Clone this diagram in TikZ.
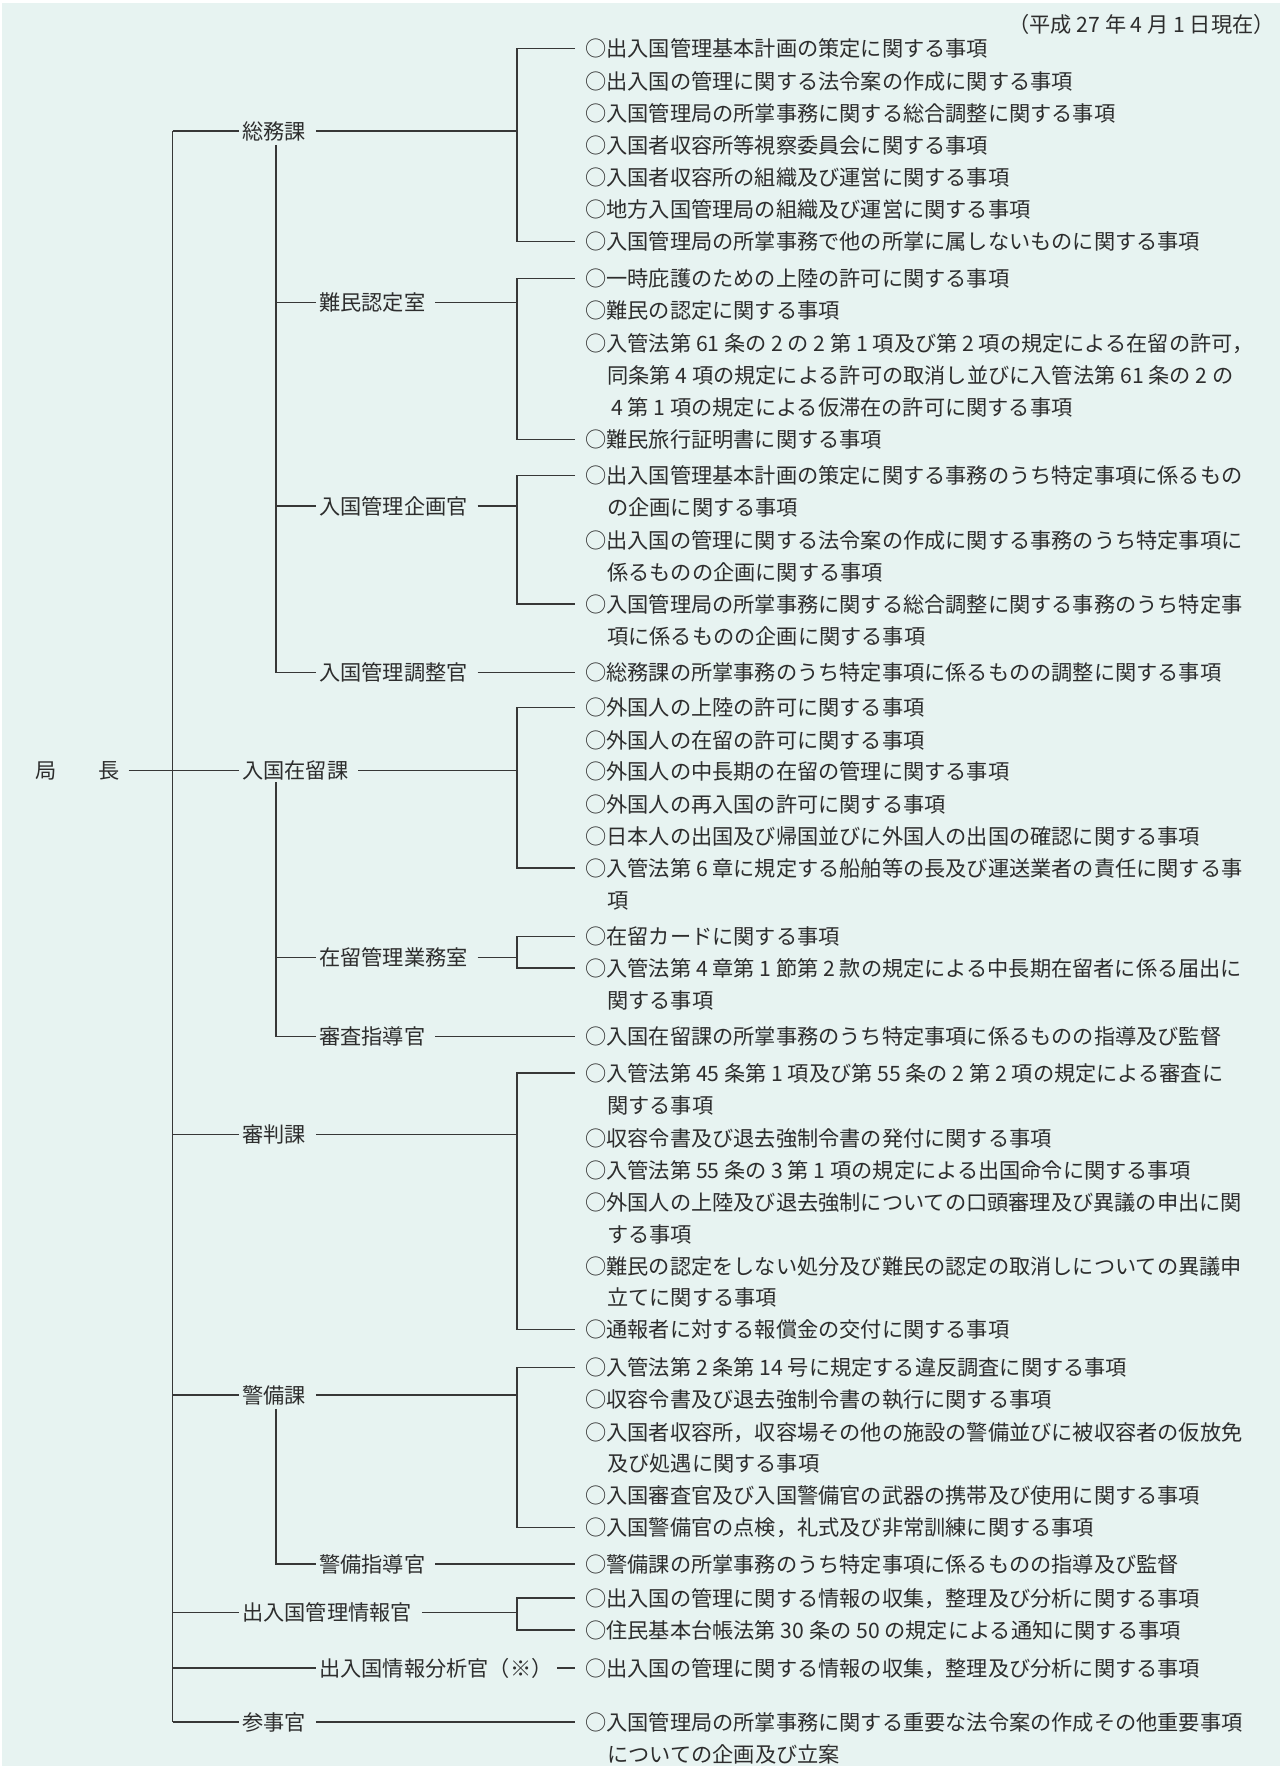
\documentclass[tikz,border=0pt]{standalone}
\usepackage{fontspec}
\setmainfont{Noto Sans CJK JP}
\usetikzlibrary{calc}
\definecolor{bg}{RGB}{231,243,241}
\definecolor{ink}{RGB}{45,45,45}
\definecolor{ln}{RGB}{55,55,55}
\tikzset{
  lab/.style={anchor=west, inner xsep=2.25pt, inner ysep=0pt, text height=14pt, text depth=1.9pt,
              font=\fontsize{15.9}{20}\selectfont, text=ink},
  itm/.style={lab, inner xsep=7.5pt},
  conn/.style={draw=ln, line width=0.8pt},
}
\begin{document}
\begin{tikzpicture}[x=0.75pt,y=-0.75pt]
\useasboundingbox (0,0) rectangle (1280,1766);
\fill[white] (0,0) rectangle (1280,1766);
\fill[bg] (2,3) rectangle (1280,1766);
\coordinate (v0) at (172.5,0);
\coordinate (v1) at (276,0);
\coordinate (bx) at (517,0);

% header
\node[lab, anchor=east] (date) at (1278,24) {（平成 27 年 4 月 1 日現在）};
\node[lab] (kyoku) at (32,770.5) {局　　長};

% level 1
\node[lab] (s1) at (239,131) {総務課};
\node[lab] (s2) at (239,770.5) {入国在留課};
\node[lab] (s3) at (239,1134.5) {審判課};
\node[lab] (s4) at (239,1395) {警備課};
\node[lab] (s5) at (239,1612.5) {出入国管理情報官};
\node[lab] (s6) at (239,1722) {参事官};

% level 2
\node[lab] (t1) at (316,302.5) {難民認定室};
\node[lab] (t2) at (316,506) {入国管理企画官};
\node[lab] (t3) at (316,672.5) {入国管理調整官};
\node[lab] (t4) at (316,957.5) {在留管理業務室};
\node[lab] (t5) at (316,1036.5) {審査指導官};
\node[lab] (t6) at (316,1564) {警備指導官};
\node[lab] (t7) at (316,1668) {出入国情報分析官（※）};

% items: 総務課
\node[itm] (a1) at (575,48.5) {○出入国管理基本計画の策定に関する事項};
\node[itm] (a2) at (575,81) {○出入国の管理に関する法令案の作成に関する事項};
\node[itm] (a3) at (575,113.5) {○入国管理局の所掌事務に関する総合調整に関する事項};
\node[itm] (a4) at (575,145.5) {○入国者収容所等視察委員会に関する事項};
\node[itm] (a5) at (575,177) {○入国者収容所の組織及び運営に関する事項};
\node[itm] (a6) at (575,209.5) {○地方入国管理局の組織及び運営に関する事項};
\node[itm] (a7) at (575,241.5) {○入国管理局の所掌事務で他の所掌に属しないものに関する事項};
% 難民認定室
\node[itm] (b1) at (575,278.5) {○一時庇護のための上陸の許可に関する事項};
\node[itm] (b2) at (575,310.5) {○難民の認定に関する事項};
\node[itm] (b3) at (575,343) {○入管法第 61 条の 2 の 2 第 1 項及び第 2 項の規定による在留の許可，};
\node[itm] (b3b) at (597,375) {同条第 4 項の規定による許可の取消し並びに入管法第 61 条の 2 の};
\node[itm] (b3c) at (597,407.5) {\hspace{3pt}4 第 1 項の規定による仮滞在の許可に関する事項};
\node[itm] (b4) at (575,439.5) {○難民旅行証明書に関する事項};
% 入国管理企画官
\node[itm] (c1) at (575,475.5) {○出入国管理基本計画の策定に関する事務のうち特定事項に係るもの};
\node[itm] (c1b) at (597,507.5) {の企画に関する事項};
\node[itm] (c2) at (575,540.5) {○出入国の管理に関する法令案の作成に関する事務のうち特定事項に};
\node[itm] (c2b) at (597,572) {係るものの企画に関する事項};
\node[itm] (c3) at (575,604) {○入国管理局の所掌事務に関する総合調整に関する事務のうち特定事};
\node[itm] (c3b) at (597,636) {項に係るものの企画に関する事項};
% 入国管理調整官
\node[itm] (d) at (575,672.5) {○総務課の所掌事務のうち特定事項に係るものの調整に関する事項};
% 入国在留課
\node[itm] (e1) at (575,707.5) {○外国人の上陸の許可に関する事項};
\node[itm] (e2) at (575,740) {○外国人の在留の許可に関する事項};
\node[itm] (e3) at (575,771.5) {○外国人の中長期の在留の管理に関する事項};
\node[itm] (e4) at (575,804) {○外国人の再入国の許可に関する事項};
\node[itm] (e5) at (575,836.5) {○日本人の出国及び帰国並びに外国人の出国の確認に関する事項};
\node[itm] (e6) at (575,868) {○入管法第 6 章に規定する船舶等の長及び運送業者の責任に関する事};
\node[itm] (e6b) at (597,900) {項};
% 在留管理業務室
\node[itm] (f1) at (575,936.5) {○在留カードに関する事項};
\node[itm] (f2) at (575,968) {○入管法第 4 章第 1 節第 2 款の規定による中長期在留者に係る届出に};
\node[itm] (f2b) at (597,1000.5) {関する事項};
% 審査指導官
\node[itm] (g) at (575,1036.5) {○入国在留課の所掌事務のうち特定事項に係るものの指導及び監督};
% 審判課
\node[itm] (h1) at (575,1073) {○入管法第 45 条第 1 項及び第 55 条の 2 第 2 項の規定による審査に};
\node[itm] (h1b) at (597,1105) {関する事項};
\node[itm] (h2) at (575,1138) {○収容令書及び退去強制令書の発付に関する事項};
\node[itm] (h3) at (575,1170) {○入管法第 55 条の 3 第 1 項の規定による出国命令に関する事項};
\node[itm] (h4) at (575,1202) {○外国人の上陸及び退去強制についての口頭審理及び異議の申出に関};
\node[itm] (h4b) at (597,1234) {する事項};
\node[itm] (h5) at (575,1266) {○難民の認定をしない処分及び難民の認定の取消しについての異議申};
\node[itm] (h5b) at (597,1297.5) {立てに関する事項};
\node[itm] (h6) at (575,1329.5) {○通報者に対する報償金の交付に関する事項};
% 警備課
\node[itm] (i1) at (575,1367.5) {○入管法第 2 条第 14 号に規定する違反調査に関する事項};
\node[itm] (i2) at (575,1399.5) {○収容令書及び退去強制令書の執行に関する事項};
\node[itm] (i3) at (575,1432) {○入国者収容所，収容場その他の施設の警備並びに被収容者の仮放免};
\node[itm] (i3b) at (597,1463.5) {及び処遇に関する事項};
\node[itm] (i4) at (575,1495) {○入国審査官及び入国警備官の武器の携帯及び使用に関する事項};
\node[itm] (i5) at (575,1527.5) {○入国警備官の点検，礼式及び非常訓練に関する事項};
% 警備指導官
\node[itm] (j) at (575,1564) {○警備課の所掌事務のうち特定事項に係るものの指導及び監督};
% 出入国管理情報官
\node[itm] (k1) at (575,1598) {○出入国の管理に関する情報の収集，整理及び分析に関する事項};
\node[itm] (k2) at (575,1630) {○住民基本台帳法第 30 条の 50 の規定による通知に関する事項};
% 出入国情報分析官
\node[itm] (l) at (575,1668) {○出入国の管理に関する情報の収集，整理及び分析に関する事項};
% 参事官
\node[itm] (m) at (575,1722) {○入国管理局の所掌事務に関する重要な法令案の作成その他重要事項};
\node[itm] (mb) at (597,1754) {についての企画及び立案};

% main trunk
\draw[conn] ([xshift=4pt]kyoku.east) -- (s2.west);
\draw[conn] (s1.west -| v0) -- (s6.west -| v0);
\foreach \n in {s1,s3,s4,s5,s6,t7} \draw[conn] (\n.west -| v0) -- (\n.west);

% sub trunks
\draw[conn] ($(s1.south -| v1)+(0,3)$) -- (t3.west -| v1) -- (t3.west);
\foreach \n in {t1,t2} \draw[conn] (\n.west -| v1) -- (\n.west);
\draw[conn] ($(s2.south -| v1)+(0,1)$) -- (t5.west -| v1) -- (t5.west);
\draw[conn] (t4.west -| v1) -- (t4.west);
\draw[conn] ($(s4.south -| v1)+(0,3)$) -- (t6.west -| v1) -- (t6.west);

% parent to bracket
\foreach \n in {s1,t1,t2,s2,t4,s3,s4,s5} \draw[conn] ([xshift=5pt]\n.east) -- (\n.east -| bx);

% brackets
\draw[conn] (a1.west) -- (a1.west -| bx) -- (a7.west -| bx) -- (a7.west);
\draw[conn] (b1.west) -- (b1.west -| bx) -- (b4.west -| bx) -- (b4.west);
\draw[conn] (c1.west) -- (c1.west -| bx) -- (c3.west -| bx) -- (c3.west);
\draw[conn] (e1.west) -- (e1.west -| bx) -- (e6.west -| bx) -- (e6.west);
\draw[conn] (f1.west) -- (f1.west -| bx) -- (f2.west -| bx) -- (f2.west);
\draw[conn] (h1.west) -- (h1.west -| bx) -- (h6.west -| bx) -- (h6.west);
\draw[conn] (i1.west) -- (i1.west -| bx) -- (i5.west -| bx) -- (i5.west);
\draw[conn] (k1.west) -- (k1.west -| bx) -- (k2.west -| bx) -- (k2.west);

% single items
\draw[conn] ([xshift=5pt]t3.east) -- (d.west);
\draw[conn] ([xshift=5pt]t5.east) -- (g.west);
\draw[conn] ([xshift=5pt]t6.east) -- (j.west);
\draw[conn] ([xshift=1pt]t7.east) -- (l.west);
\draw[conn] ([xshift=5pt]s6.east) -- (m.west);
\end{tikzpicture}
\end{document}
